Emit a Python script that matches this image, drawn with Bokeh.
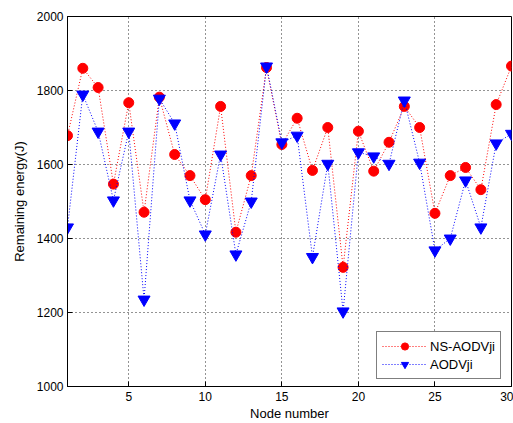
from bokeh.plotting import figure
from bokeh.models import Range1d, FixedTicker, Legend, LegendItem
from bokeh.embed import file_html
from bokeh.resources import INLINE

nodes = list(range(1, 31))
ns_aodvji = [1678, 1860, 1808, 1547, 1767, 1471, 1782, 1627, 1570, 1505,
             1757, 1417, 1570, 1862, 1654, 1725, 1584, 1700, 1322, 1690,
             1582, 1660, 1757, 1700, 1468, 1570, 1592, 1532, 1762, 1866]
aodvji = [1430, 1789, 1689, 1503, 1689, 1235, 1778, 1711, 1503, 1411,
          1627, 1357, 1500, 1865, 1660, 1678, 1350, 1602, 1203, 1633,
          1622, 1602, 1773, 1605, 1368, 1400, 1557, 1430, 1657, 1683]
x_ticks = [5, 10, 15, 20, 25, 30]
y_ticks = [1000, 1200, 1400, 1600, 1800, 2000]

FONT = "Liberation Sans"

p = figure(width=513, height=423, output_backend="svg", toolbar_location=None,
           x_range=Range1d(1, 30), y_range=Range1d(1000, 2000),
           min_border_left=67, min_border_top=16, min_border_right=2, min_border_bottom=37)

p.outline_line_color = "black"
p.outline_line_width = 1

for ax in (p.xaxis[0], p.yaxis[0]):
    ax.major_tick_in = 5
    ax.major_tick_out = 0
    ax.minor_tick_line_color = None
    ax.axis_line_color = "black"
    ax.major_tick_line_color = "black"
    ax.major_label_text_font = FONT
    ax.major_label_text_font_size = "12px"
    ax.major_label_text_color = "black"
    ax.axis_label_text_font = FONT
    ax.axis_label_text_font_size = "13px"
    ax.axis_label_text_font_style = "normal"
    ax.axis_label_text_color = "black"

p.xaxis.ticker = FixedTicker(ticks=x_ticks)
p.yaxis.ticker = FixedTicker(ticks=y_ticks)
p.xaxis.axis_label = "Node number"
p.yaxis.axis_label = "Remaining energy(J)"
p.xaxis.major_label_standoff = 5
p.xaxis.axis_label_standoff = 2
p.yaxis.major_label_standoff = 4
p.yaxis.axis_label_standoff = 7

p.grid.grid_line_color = "black"
p.grid.grid_line_alpha = 0.85
p.grid.grid_line_dash = "1 3"
p.xgrid.ticker = FixedTicker(ticks=x_ticks)
p.ygrid.ticker = FixedTicker(ticks=y_ticks)

l1 = p.line(nodes, ns_aodvji, line_color="red", line_dash="1 2", line_width=1)
s1 = p.scatter(nodes, ns_aodvji, marker="circle", size=10, fill_color="red", line_color="red")
l2 = p.line(nodes, aodvji, line_color="blue", line_dash="1 2", line_width=1)
s2 = p.scatter(nodes, aodvji, marker="inverted_triangle", size=12, fill_color="blue", line_color="blue")

legend = Legend(items=[LegendItem(label="NS-AODVji", renderers=[l1, s1]),
                       LegendItem(label="AODVji", renderers=[l2, s2])],
                location=(309, 7), orientation="vertical")
legend.border_line_color = "black"
legend.border_line_width = 1
legend.background_fill_color = "white"
legend.background_fill_alpha = 1
legend.label_text_font = FONT
legend.label_text_font_size = "13px"
legend.label_text_color = "black"
legend.glyph_width = 45
legend.glyph_height = 18
legend.label_height = 18
legend.label_standoff = 3
legend.padding = 5
legend.spacing = 0
legend.margin = 0
p.add_layout(legend, "center")

open("out.html", "w").write(file_html(p, INLINE))
